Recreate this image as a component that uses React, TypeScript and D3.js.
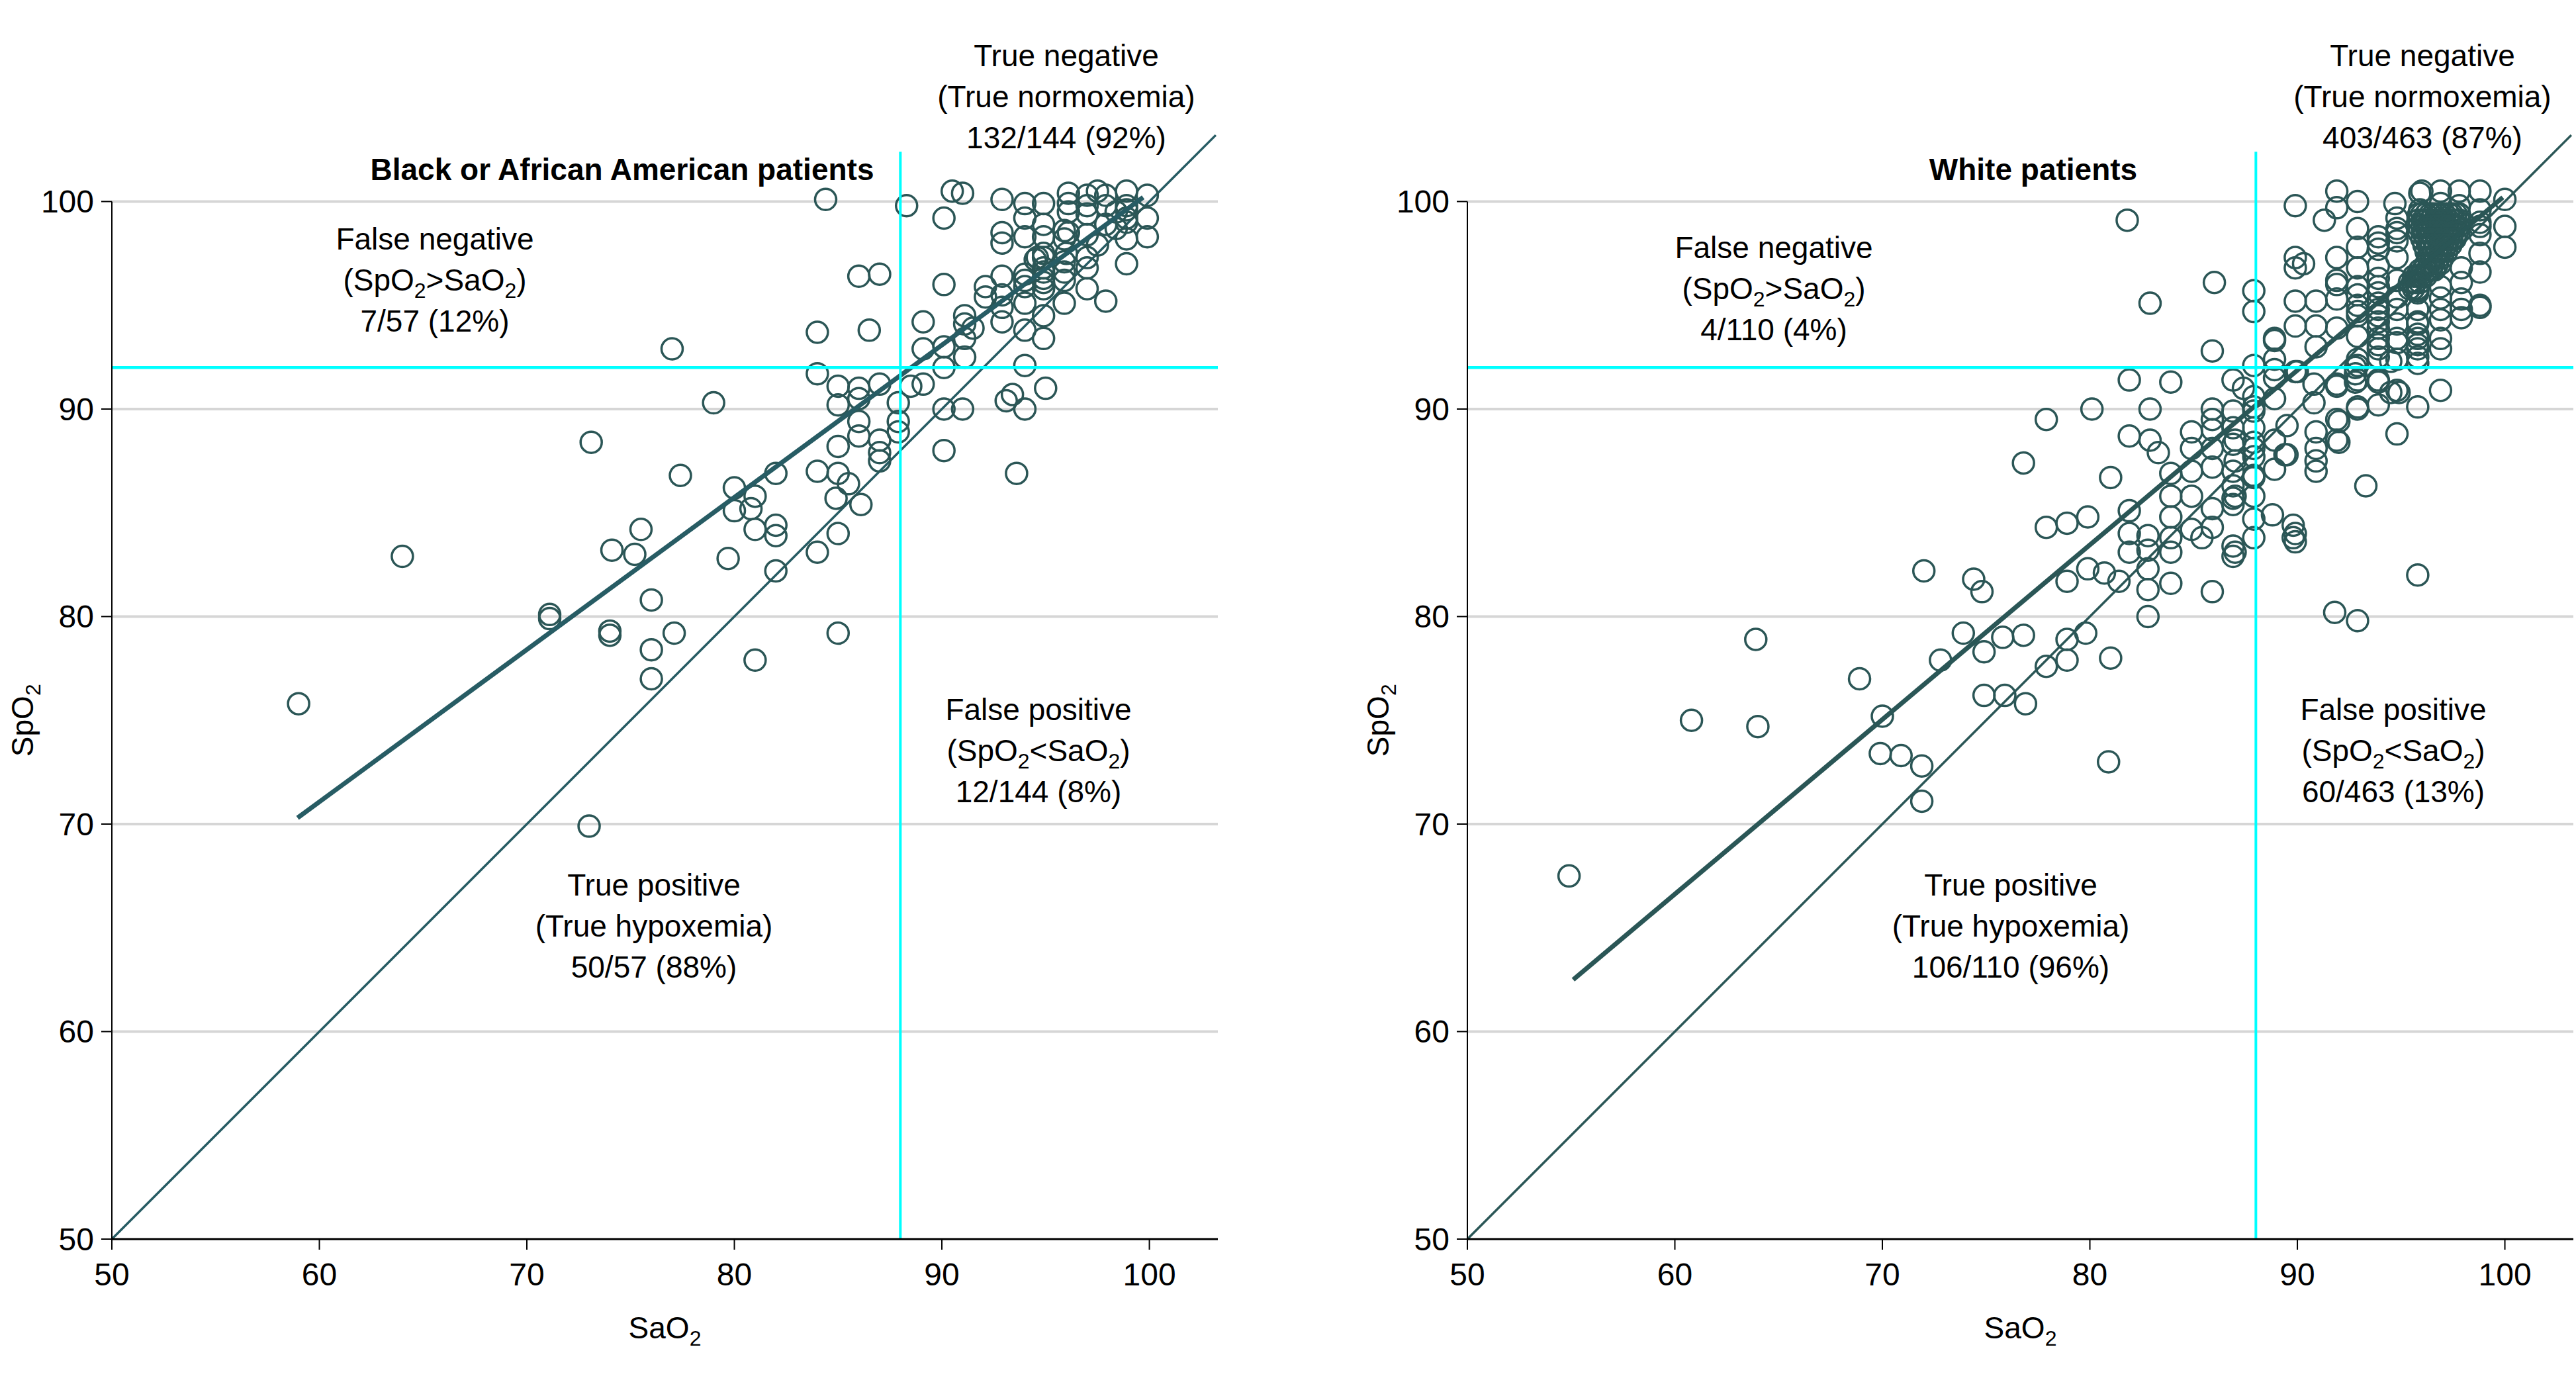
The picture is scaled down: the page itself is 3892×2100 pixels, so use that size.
import React from "react";
import * as d3 from "d3";

// ---------- data ----------
const AXIS_MIN = 50;
const AXIS_MAX = 103.3;
const TICK_VALUES = [50, 60, 70, 80, 90, 100];
const GRID_VALUES = [60, 70, 80, 90, 100];
const SAO2_CUTOFF = 88;
const SPO2_CUTOFF = 92;
const CUTOFF_TOP = 102.4;
const IDENTITY: [number, number][] = [[50, 50], [103.2, 103.2]];

// Black or African American patients: [SaO2, SpO2]
const BLACK_POINTS: [number, number][] = [
  [59.0, 75.8], [64.0, 82.9], [71.1, 80.1], [71.1, 79.9], [73.0, 69.9], [73.1, 88.4], [74.0, 79.3], [74.0, 79.1],
  [74.1, 83.2], [75.2, 83.0], [75.5, 84.2], [76.0, 80.8], [76.0, 78.4], [76.0, 77.0], [77.0, 92.9], [77.1, 79.2],
  [77.4, 86.8], [79.0, 90.3], [79.7, 82.8], [80.0, 86.2], [80.0, 85.1], [80.8, 85.2], [81.0, 85.8], [81.0, 84.2],
  [81.0, 77.9], [82.0, 86.9], [82.0, 84.4], [82.0, 83.9], [82.0, 82.2], [84.0, 93.7], [84.0, 91.7], [84.0, 87.0],
  [84.0, 83.1], [84.4, 100.1], [85.0, 91.1], [85.0, 90.2], [85.0, 88.2], [85.0, 86.9], [85.5, 86.4], [84.9, 85.7],
  [85.0, 84.0], [85.0, 79.2], [86.0, 96.4], [86.0, 91.0], [86.0, 90.5], [86.0, 89.4], [86.0, 88.7], [86.1, 85.4],
  [86.5, 93.8], [87.0, 96.5], [87.0, 91.2], [87.0, 88.5], [87.0, 87.9], [87.0, 87.5], [87.9, 90.3], [87.9, 89.4],
  [87.9, 88.9], [88.3, 99.8], [88.5, 91.1], [89.1, 94.2], [89.1, 92.9], [89.1, 91.2], [90.1, 99.2], [90.1, 96.0],
  [90.1, 93.0], [90.1, 92.0], [90.1, 90.0], [90.1, 88.0], [90.5, 100.5], [91.0, 100.4], [91.0, 90.0], [91.1, 94.5],
  [91.1, 94.1], [91.5, 93.9], [91.1, 93.4], [91.1, 92.5], [92.1, 95.9], [92.1, 95.4], [92.9, 100.1], [92.9, 98.5],
  [92.9, 98.0], [92.9, 96.4], [92.9, 95.5], [92.9, 94.9], [92.9, 94.2], [93.1, 90.4], [93.4, 90.7], [93.6, 86.9],
  [94.0, 99.9], [94.0, 99.2], [94.0, 98.3], [94.0, 96.5], [94.0, 96.2], [94.0, 95.9], [94.0, 95.1], [94.0, 93.8],
  [94.0, 92.1], [94.0, 90.0], [94.5, 97.2], [94.6, 97.3], [94.9, 99.9], [94.9, 98.9], [94.9, 98.3], [94.9, 97.5],
  [94.9, 97.3], [94.9, 96.8], [94.9, 96.6], [94.9, 96.3], [94.9, 96.1], [94.9, 95.8], [94.9, 94.5], [94.9, 93.4],
  [95.0, 91.0], [95.9, 98.6], [95.9, 98.2], [95.9, 97.1], [95.9, 96.6], [95.9, 96.2], [95.9, 95.1], [96.0, 97.5],
  [96.1, 100.4], [96.1, 99.9], [96.1, 99.5], [96.1, 98.5], [97.0, 100.3], [97.0, 99.8], [97.0, 99.4], [97.0, 98.4],
  [97.0, 97.3], [97.0, 96.8], [97.0, 95.8], [97.5, 100.5], [97.5, 97.9], [97.9, 100.3], [97.9, 99.8], [97.9, 98.9],
  [97.9, 95.2], [98.4, 99.5], [98.4, 98.7], [98.9, 100.5], [98.9, 99.8], [98.9, 99.6], [98.9, 99.2], [98.9, 99.0],
  [98.9, 98.2], [98.9, 97.0], [99.9, 100.3], [99.9, 99.2], [99.9, 98.3],
];

// White patients: [SaO2, SpO2]
const WHITE_POINTS: [number, number][] = [
  [54.9, 67.5], [60.8, 75.0], [63.9, 78.9], [64.0, 74.7], [68.9, 77.0], [70.0, 75.2], [69.9, 73.4], [70.9, 73.3],
  [71.9, 72.8], [71.9, 71.1], [72.0, 82.2], [72.8, 77.9], [73.9, 79.2], [74.4, 81.8], [74.8, 81.2], [74.9, 78.3],
  [74.9, 76.2], [75.8, 79.0], [75.9, 76.2], [76.8, 87.4], [76.8, 79.1], [76.9, 75.8], [77.9, 89.5], [77.9, 84.3],
  [77.9, 77.6], [78.9, 84.5], [78.9, 81.7], [78.9, 78.9], [78.9, 77.9], [79.8, 79.2], [79.9, 84.8], [79.9, 82.3],
  [80.1, 90.0], [80.7, 82.1], [80.9, 73.0], [81.0, 86.7], [81.0, 78.0], [81.4, 81.7], [81.8, 99.1], [81.9, 91.4],
  [81.9, 88.7], [81.9, 85.1], [81.9, 84.0], [81.9, 83.1], [82.8, 83.9], [82.8, 83.2], [82.8, 82.3], [82.8, 81.3],
  [82.8, 80.0], [82.9, 95.1], [82.9, 90.0], [82.9, 88.5], [83.3, 87.9], [83.9, 91.3], [83.9, 86.9], [83.9, 85.8],
  [83.9, 84.8], [83.9, 83.8], [83.9, 83.1], [83.9, 81.6], [84.9, 88.9], [84.9, 88.1], [84.9, 87.0], [84.9, 85.8],
  [84.9, 84.2], [85.4, 83.8], [85.9, 92.8], [85.9, 90.0], [85.9, 89.5], [85.9, 89.0], [85.9, 88.1], [85.9, 87.2],
  [85.9, 85.2], [85.9, 84.3], [85.9, 81.2], [86.0, 96.1], [86.9, 91.4], [86.9, 89.9], [86.9, 89.1], [86.9, 88.3],
  [87.0, 88.5], [87.0, 87.5], [86.9, 87.0], [86.9, 86.3], [87.0, 85.8], [86.9, 85.7], [86.9, 85.4], [86.9, 83.4],
  [87.0, 83.1], [86.9, 82.9], [87.4, 91.0], [87.9, 95.7], [87.9, 94.7], [87.9, 92.1], [87.9, 90.6], [87.9, 90.1],
  [87.9, 89.9], [87.9, 89.1], [87.9, 88.4], [87.9, 88.1], [87.9, 87.7], [87.9, 86.8], [87.9, 86.7], [87.9, 85.8],
  [87.9, 84.7], [87.9, 83.8], [88.8, 84.9], [88.9, 93.4], [88.9, 93.3], [88.9, 92.4], [88.9, 91.9], [88.9, 91.5],
  [88.9, 90.5], [88.9, 88.5], [88.9, 87.1], [89.4, 87.8], [89.5, 89.2], [89.5, 87.8], [89.8, 84.4], [89.8, 83.8],
  [89.9, 99.8], [89.9, 97.3], [89.9, 96.8], [89.9, 95.2], [89.9, 94.0], [89.9, 91.8], [89.9, 84.0], [89.9, 83.6],
  [90.0, 91.8], [90.3, 97.0], [90.8, 91.2], [90.8, 90.3], [90.9, 95.2], [90.9, 94.0], [90.9, 93.0], [90.9, 88.9],
  [90.9, 88.1], [90.9, 87.5], [90.9, 87.0], [91.3, 99.1], [91.8, 80.2], [91.9, 100.5], [91.9, 99.7], [91.9, 97.3],
  [91.9, 96.2], [91.9, 96.0], [91.9, 95.3], [91.9, 93.9], [91.9, 91.2], [91.9, 91.1], [91.9, 89.5], [91.9, 88.5],
  [92.0, 89.4], [92.0, 88.4], [92.8, 92.0], [92.8, 91.7], [92.8, 91.3], [92.9, 100.0], [92.9, 98.7], [92.9, 97.8],
  [92.9, 96.8], [92.9, 95.9], [92.9, 95.5], [92.9, 95.0], [92.9, 94.7], [92.9, 94.5], [92.9, 93.5], [92.9, 92.4],
  [92.9, 92.1], [92.9, 91.4], [92.9, 90.1], [92.9, 90.0], [92.9, 79.8], [93.3, 86.3], [93.9, 98.3], [93.9, 98.0],
  [93.9, 97.7], [93.9, 96.9], [93.9, 96.3], [93.9, 95.9], [93.9, 95.6], [93.9, 95.1], [93.9, 94.8], [93.9, 94.5],
  [93.9, 94.2], [93.9, 93.9], [93.9, 93.4], [93.9, 93.1], [93.9, 92.9], [93.9, 92.5], [93.9, 91.4], [93.9, 91.3],
  [93.9, 90.2], [94.5, 92.3], [94.5, 90.8], [94.7, 99.9], [94.8, 99.2], [94.8, 98.7], [94.8, 98.5], [94.8, 98.1],
  [94.8, 97.3], [94.8, 96.2], [94.8, 95.4], [94.8, 94.8], [94.8, 94.1], [94.8, 93.4], [94.8, 93.2], [94.8, 92.4],
  [94.8, 90.9], [94.8, 88.8], [94.9, 90.8], [95.8, 95.7], [95.8, 95.6], [95.8, 94.8], [95.8, 94.2], [95.8, 94.1],
  [95.8, 93.6], [95.8, 93.4], [95.8, 93.1], [95.8, 92.9], [95.8, 92.5], [95.8, 92.2], [95.8, 90.1], [95.8, 82.0],
  [95.9, 100.4], [95.9, 99.6], [96.0, 100.5], [96.9, 100.5], [96.9, 99.9], [96.9, 95.9], [96.9, 95.35], [96.9, 94.8],
  [96.9, 94.3], [96.9, 93.4], [96.9, 92.9], [96.9, 90.9], [97.8, 100.5], [97.8, 99.8], [97.9, 96.8], [97.9, 96.1],
  [97.9, 95.3], [97.9, 94.8], [97.9, 94.4], [98.8, 100.5], [98.8, 99.6], [98.8, 99.0], [98.8, 98.8], [98.8, 98.4],
  [98.8, 97.5], [98.8, 96.6], [98.8, 95.0], [98.8, 94.9], [100.0, 100.1], [100.0, 98.8], [100.0, 97.8],
];

// Dense overlapping cluster of White patients (SpO2 row, SaO2 values)
const WHITE_CLUSTER_ROWS: [number, number[]][] = [
  [99.4, [95.85, 96.0, 96.2, 96.4, 96.55, 96.75, 96.9, 97.1, 97.3, 97.45, 97.65, 97.8]],
  [99.1, [95.85, 96.05, 96.2, 96.4, 96.6, 96.75, 96.95, 97.1, 97.3, 97.5, 97.65, 97.8]],
  [98.8, [95.85, 96.0, 96.2, 96.35, 96.55, 96.7, 96.9, 97.1, 97.25, 97.45, 97.6, 97.75]],
  [98.5, [95.85, 96.05, 96.25, 96.4, 96.6, 96.8, 96.95, 97.15, 97.35, 97.5, 97.7]],
  [98.2, [96.0, 96.2, 96.35, 96.55, 96.75, 96.9, 97.1, 97.3, 97.45, 97.6]],
  [97.9, [96.1, 96.3, 96.45, 96.65, 96.85, 97.0, 97.2, 97.4]],
  [97.6, [96.2, 96.35, 96.55, 96.75, 96.9, 97.05, 97.2]],
  [97.3, [96.3, 96.45, 96.6, 96.8, 97.0]],
  [97.0, [96.2, 96.4, 96.55, 96.75, 96.9]],
  [96.7, [95.9, 96.05, 96.25, 96.45, 96.6]],
  [96.4, [95.6, 95.75, 95.9, 96.05, 96.2]],
  [96.1, [95.4, 95.55, 95.7, 95.9]],
  [95.8, [95.4, 95.6, 95.8]],
];

// fitted regression lines: [SaO2, SpO2] end points
const BLACK_FIT: [number, number][] = [[58.95, 70.3], [99.7, 100.2]];
const WHITE_FIT: [number, number][] = [[55.1, 62.5], [99.9, 100.2]];

const BLACK_TEXT = {
  title: "Black or African American patients",
  tn: "132/144 (92%)",
  fn: "7/57 (12%)",
  fp: "12/144 (8%)",
  tp: "50/57 (88%)",
};
const WHITE_TEXT = {
  title: "White patients",
  tn: "403/463 (87%)",
  fn: "4/110 (4%)",
  fp: "60/463 (13%)",
  tp: "106/110 (96%)",
};

// ---------- layout ----------
const W = 3892;
const H = 2100;
const PLOT_SIZE = 1671;
const PLOT_BOTTOM = 1872;
const FONT = "'Liberation Sans', Arial, Helvetica, sans-serif";
const POINT_COLOR = "#2b5656";
const CYAN = "#00ffff";
const GRID = "#d6d6d6";
const FS = 46;
const SUB = 32;
const SUBDY = 11;

type Layout = {
  left: number;
  lineColor: string;
  titleX: number;
  tnX: number;
  fnX: number;
  fnY: number;
  fpX: number;
  tpX: number;
};

const LEFT_LAYOUT: Layout = { left: 169, lineColor: "#275c64", titleX: 940, tnX: 1611, fnX: 657, fnY: 377, fpX: 1569, tpX: 988 };
const RIGHT_LAYOUT: Layout = { left: 2217, lineColor: "#2a5656", titleX: 3072, tnX: 3660, fnX: 2680, fnY: 390, fpX: 3616, tpX: 3038 };

function Sub2() {
  return (
    <tspan fontSize={SUB} dy={SUBDY}>
      2
    </tspan>
  );
}

function Lines({ x, y0, lines }: { x: number; y0: number; lines: React.ReactNode[] }) {
  return (
    <g>
      {lines.map((l, i) => (
        <text key={i} x={x} y={y0 + i * 62} textAnchor="middle" fontFamily={FONT} fontSize={FS} fill="#000">
          {l}
        </text>
      ))}
    </g>
  );
}

function Panel({
  layout,
  points,
  cluster,
  fit,
  text,
}: {
  layout: Layout;
  points: [number, number][];
  cluster: [number, number[]][];
  fit: [number, number][];
  text: typeof BLACK_TEXT;
}) {
  const x = d3.scaleLinear().domain([AXIS_MIN, AXIS_MAX]).range([layout.left, layout.left + PLOT_SIZE]);
  const y = d3.scaleLinear().domain([AXIS_MIN, AXIS_MAX]).range([PLOT_BOTTOM, PLOT_BOTTOM - PLOT_SIZE]);
  const line = d3
    .line<[number, number]>()
    .x((d) => x(d[0]))
    .y((d) => y(d[1]));

  const clusterPts: [number, number][] = [];
  cluster.forEach(([sp, sas]) => sas.forEach((sa) => clusterPts.push([sa, sp])));
  const allPts = points.concat(clusterPts);

  const x0 = x(AXIS_MIN);
  const x1 = x(AXIS_MAX);

  const spLbl = (
    <>
      (SpO<Sub2 />
      <tspan dy={-SUBDY}>&gt;SaO</tspan>
      <Sub2 />
      <tspan dy={-SUBDY}>)</tspan>
    </>
  );
  const spLblLt = (
    <>
      (SpO<Sub2 />
      <tspan dy={-SUBDY}>&lt;SaO</tspan>
      <Sub2 />
      <tspan dy={-SUBDY}>)</tspan>
    </>
  );

  return (
    <g>
      {/* grid */}
      {GRID_VALUES.map((v) => (
        <line key={v} x1={x0} x2={x1} y1={y(v)} y2={y(v)} stroke={GRID} strokeWidth={4} />
      ))}
      {/* identity line */}
      <path d={line(IDENTITY) || ""} stroke={layout.lineColor} strokeWidth={3.5} fill="none" />
      {/* points */}
      {allPts.map((p, i) => (
        <circle key={i} cx={x(p[0])} cy={y(p[1])} r={16} fill="none" stroke={POINT_COLOR} strokeWidth={3.5} />
      ))}
      {/* regression */}
      <path d={line(fit) || ""} stroke={layout.lineColor} strokeWidth={7} fill="none" />
      {/* cutoffs */}
      <line x1={x(SAO2_CUTOFF)} x2={x(SAO2_CUTOFF)} y1={y(AXIS_MIN)} y2={y(CUTOFF_TOP)} stroke={CYAN} strokeWidth={4} />
      <line x1={x0} x2={x1} y1={y(SPO2_CUTOFF)} y2={y(SPO2_CUTOFF)} stroke={CYAN} strokeWidth={4.5} />
      {/* axes */}
      <line x1={x0} x2={x0} y1={y(100)} y2={y(AXIS_MIN)} stroke="#000" strokeWidth={2} />
      <line x1={x0 - 1} x2={x1} y1={y(AXIS_MIN)} y2={y(AXIS_MIN)} stroke="#000" strokeWidth={3} />
      {TICK_VALUES.map((v) => (
        <g key={"t" + v}>
          <line x1={x0 - 16} x2={x0} y1={y(v)} y2={y(v)} stroke="#000" strokeWidth={2} />
          <text x={x0 - 27} y={y(v) + 17} textAnchor="end" fontFamily={FONT} fontSize={48} fill="#000">
            {v}
          </text>
          <line x1={x(v)} x2={x(v)} y1={y(AXIS_MIN)} y2={y(AXIS_MIN) + 16} stroke="#000" strokeWidth={2} />
          <text x={x(v)} y={1942} textAnchor="middle" fontFamily={FONT} fontSize={48} fill="#000">
            {v}
          </text>
        </g>
      ))}
      {/* axis titles */}
      <text x={(x0 + x1) / 2} y={2022} textAnchor="middle" fontFamily={FONT} fontSize={FS} fill="#000">
        SaO<Sub2 />
      </text>
      <text
        transform={`translate(${x0 - 119},${(y(100) + y(50)) / 2}) rotate(-90)`}
        textAnchor="middle"
        fontFamily={FONT}
        fontSize={FS}
        fill="#000"
      >
        SpO<Sub2 />
      </text>
      {/* title */}
      <text x={layout.titleX} y={272} textAnchor="middle" fontFamily={FONT} fontSize={46} fontWeight="bold" fill="#000">
        {text.title}
      </text>
      {/* quadrant annotations */}
      <Lines x={layout.tnX} y0={100} lines={["True negative", "(True normoxemia)", text.tn]} />
      <Lines x={layout.fnX} y0={layout.fnY} lines={["False negative", spLbl, text.fn]} />
      <Lines x={layout.fpX} y0={1088} lines={["False positive", spLblLt, text.fp]} />
      <Lines x={layout.tpX} y0={1353} lines={["True positive", "(True hypoxemia)", text.tp]} />
    </g>
  );
}

export default function App() {
  return (
    <svg
      width={W}
      height={H}
      viewBox={`0 0 ${W} ${H}`}
      style={{ position: "absolute", left: 0, top: 0, background: "#fff" }}
    >
      <rect x={0} y={0} width={W} height={H} fill="#fff" />
      <Panel layout={LEFT_LAYOUT} points={BLACK_POINTS} cluster={[]} fit={BLACK_FIT} text={BLACK_TEXT} />
      <Panel layout={RIGHT_LAYOUT} points={WHITE_POINTS} cluster={WHITE_CLUSTER_ROWS} fit={WHITE_FIT} text={WHITE_TEXT} />
    </svg>
  );
}
